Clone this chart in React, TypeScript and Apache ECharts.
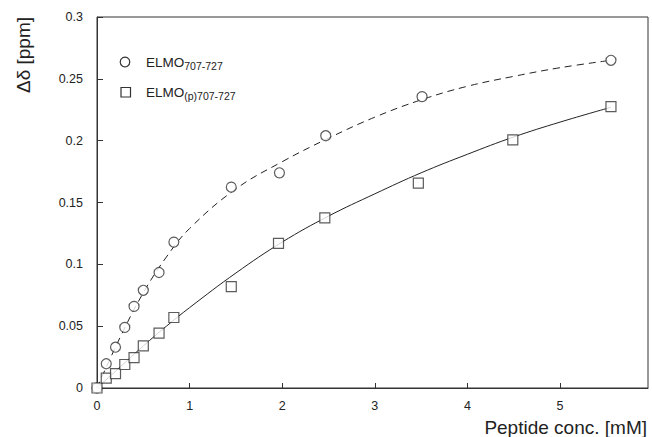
import React, { useEffect, useRef } from "react";
import * as echarts from "echarts";

const concFree = [0, 0.1, 0.2, 0.3, 0.4, 0.5, 0.67, 0.83, 1.45, 1.97, 2.47, 3.51, 5.55];
const shiftFree = [0, 0.0196, 0.033, 0.049, 0.066, 0.079, 0.0934, 0.118, 0.1624, 0.174, 0.204, 0.2356, 0.265];

const concPhos = [0, 0.1, 0.2, 0.3, 0.4, 0.5, 0.67, 0.83, 1.45, 1.96, 2.46, 3.47, 4.49, 5.55];
const shiftPhos = [0, 0.008, 0.0116, 0.019, 0.0245, 0.034, 0.0444, 0.057, 0.082, 0.117, 0.1376, 0.1656, 0.2006, 0.2275];

const fitConc = [0, 0.25, 0.5, 0.75, 1, 1.5, 2, 2.5, 3, 3.5, 4, 4.5, 5, 5.55];
const fitFree = [0, 0.041, 0.077, 0.106, 0.129, 0.161, 0.183, 0.202, 0.219, 0.233, 0.244, 0.252, 0.259, 0.265];
const fitPhos = [0, 0.017, 0.034, 0.05, 0.065, 0.093, 0.118, 0.139, 0.157, 0.174, 0.189, 0.203, 0.215, 0.227];

const xTicks = [0, 1, 2, 3, 4, 5];
const yTicks = ["0", "0.05", "0.1", "0.15", "0.2", "0.25", "0.3"];

const FONT = "'Liberation Sans', Arial, Helvetica, sans-serif";
const INK = "#333";

const zip = (a: number[], b: number[]) => a.map((v, i) => [v, b[i]]);

export default function App() {
  const ref = useRef<HTMLDivElement>(null);
  useEffect(() => {
    if (!ref.current) return;
    const chart = echarts.init(ref.current, undefined, { renderer: "svg" });
    const legendRich = {
      a: { fontSize: 13.5, fontFamily: FONT, fill: "#222", lineHeight: 16 },
      b: { fontSize: 10.5, fontFamily: FONT, fill: "#222", padding: [8, 0, 0, 0], lineHeight: 12 },
    };
    chart.setOption({
      animation: false,
      backgroundColor: "#fff",
      grid: {
        left: 97,
        right: 4,
        top: 17,
        bottom: 49,
        show: true,
        borderColor: INK,
        borderWidth: 1,
        backgroundColor: "transparent",
      },
      xAxis: {
        type: "value",
        min: 0,
        max: 5.95,
        interval: 1,
        splitLine: { show: false },
        axisLine: { lineStyle: { color: INK, width: 1 } },
        axisTick: { inside: true, length: 5, lineStyle: { color: INK } },
        axisLabel: {
          color: "#222",
          fontSize: 12.5,
          fontFamily: FONT,
          margin: 11,
          showMaxLabel: false,
          formatter: (v: number) => (xTicks.indexOf(v) >= 0 ? String(v) : ""),
        },
      },
      yAxis: {
        type: "value",
        min: 0,
        max: 0.3,
        interval: 0.05,
        splitLine: { show: false },
        axisLine: { lineStyle: { color: INK, width: 1 } },
        axisTick: { inside: true, length: 6, lineStyle: { color: INK } },
        axisLabel: {
          color: "#222",
          fontSize: 12.5,
          fontFamily: FONT,
          margin: 14,
          formatter: (v: number) => yTicks[Math.round(v / 0.05)] ?? "",
        },
      },
      graphic: [
        {
          type: "text",
          x: 23,
          y: 55,
          rotation: Math.PI / 2,
          style: {
            text: "Δδ [ppm]",
            fontSize: 19,
            fontFamily: FONT,
            fill: "#222",
            align: "center",
            verticalAlign: "middle",
          },
        },
        {
          type: "text",
          x: 647,
          y: 427,
          style: {
            text: "Peptide conc. [mM]",
            fontSize: 19,
            fontFamily: FONT,
            fill: "#222",
            align: "right",
            verticalAlign: "middle",
          },
        },
        {
          type: "circle",
          shape: { cx: 125, cy: 62, r: 4.8 },
          style: { fill: "#fff", stroke: INK, lineWidth: 1.2 },
        },
        {
          type: "rect",
          shape: { x: 121, y: 87.5, width: 9.5, height: 9.5 },
          style: { fill: "#fff", stroke: INK, lineWidth: 1.2 },
        },
        {
          type: "text",
          x: 146,
          y: 62,
          style: {
            text: "{a|ELMO}{b|707-727}",
            fontFamily: FONT,
            fill: "#222",
            verticalAlign: "middle",
            rich: legendRich,
          },
        },
        {
          type: "text",
          x: 146,
          y: 92,
          style: {
            text: "{a|ELMO}{b|(p)707-727}",
            fontFamily: FONT,
            fill: "#222",
            verticalAlign: "middle",
            rich: legendRich,
          },
        },
      ],
      series: [
        {
          name: "fit ELMO707-727",
          type: "line",
          data: zip(fitConc, fitFree),
          smooth: 0.4,
          showSymbol: false,
          lineStyle: { color: "#222", width: 1, type: [7, 5] },
          z: 2,
        },
        {
          name: "fit ELMO(p)707-727",
          type: "line",
          data: zip(fitConc, fitPhos),
          smooth: 0.4,
          showSymbol: false,
          lineStyle: { color: "#222", width: 1 },
          z: 2,
        },
        {
          name: "ELMO707-727",
          type: "scatter",
          data: zip(concFree, shiftFree),
          symbol: "circle",
          symbolSize: 10,
          itemStyle: { color: "#fff", borderColor: INK, borderWidth: 1.2 },
          z: 5,
        },
        {
          name: "ELMO(p)707-727",
          type: "scatter",
          data: zip(concPhos, shiftPhos),
          symbol: "rect",
          symbolSize: 10,
          itemStyle: { color: "#fff", borderColor: INK, borderWidth: 1.2 },
          z: 5,
        },
      ],
    });
    return () => chart.dispose();
  }, []);
  return (
    <div
      ref={ref}
      style={{ position: "fixed", left: 0, top: 0, width: 652, height: 437 }}
    />
  );
}
